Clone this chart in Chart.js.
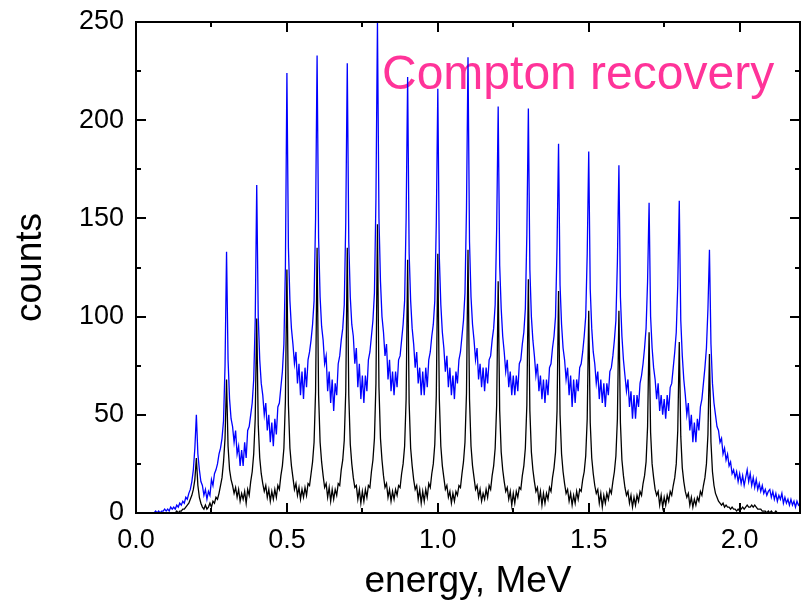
<!DOCTYPE html>
<html>
<head>
<meta charset="utf-8">
<script src="https://cdn.jsdelivr.net/npm/chart.js@4.4.1/dist/chart.umd.min.js"></script>
<style>
html, body { margin: 0; padding: 0; background: #fff; }
</style>
</head>
<body>
<canvas id="spectrum" width="802" height="604"></canvas>
<script>
const eStep = 0.005; // channel width in MeV, spectra start at 0

// counts per channel, Compton recovery (blue)
const blueCounts = [
    0,0,0,0,0,0,0,0,0,0,0,0,0,1,0,1,0,1,1,2,
    1,2,1,3,2,3,2,4,3,5,4,6,5,8,7,10,12,16,22,33,
    50,30,22,16,14,9,12,7,11,9,17,14,20,22,25,30,33,38,47,75,
    133,78,58,48,44,36,42,30,34,24,32,24,36,28,42,44,50,56,68,98,
    167,100,78,66,60,50,56,42,50,36,46,34,48,40,54,56,64,72,86,125,
    224,135,108,94,86,76,82,66,76,60,72,58,74,64,78,82,88,96,108,150,
    233,140,110,95,88,76,80,62,72,56,68,52,66,60,76,80,88,94,106,148,
    229,138,110,96,90,76,84,64,76,58,70,56,70,62,78,82,90,98,112,160,
    250,150,118,100,92,80,86,68,78,62,72,60,72,64,78,80,88,96,108,150,
    222,132,108,94,86,74,82,66,74,60,72,60,74,64,78,82,90,96,108,148,
    216,130,106,92,84,72,80,64,74,60,70,58,72,66,78,82,90,98,112,155,
    232,138,110,96,88,78,84,68,76,64,74,62,74,66,78,80,88,94,106,145,
    207,126,104,90,82,72,78,64,72,60,70,60,70,62,76,78,86,92,104,142,
    206,124,100,88,80,70,76,62,70,58,68,56,68,60,74,76,84,90,100,135,
    188,116,96,84,78,68,74,60,70,54,68,56,68,62,74,76,82,90,100,132,
    184,114,94,82,76,66,72,58,68,56,66,54,66,60,72,74,80,88,98,128,
    177,110,90,78,70,62,68,54,62,48,60,48,60,54,66,70,76,84,94,118,
    158,100,84,74,68,58,66,52,60,50,58,48,60,52,64,66,74,82,92,116,
    159,98,80,68,60,50,56,42,50,36,46,36,48,42,54,58,66,74,84,104,
    134,86,66,56,50,44,42,36,38,30,33,27,30,24,26,20,22,18,21,16,
    20,15,19,14,18,22,16,20,14,18,13,17,12,15,11,14,10,12,9,11,
    12,8,11,7,10,6,9,7,10,5,8,5,7,4,7,4,6,3,6,4,
    5
];

// counts per channel, raw spectrum (black)
const blackCounts = [
    0,0,0,0,0,0,0,0,0,0,0,0,0,0,0,0,0,0,0,0,
    0,0,0,0,0,0,0,1,0,1,1,2,2,3,4,5,7,9,12,17,
    28,14,8,5,3,2,4,2,3,5,3,6,5,8,7,10,14,18,26,38,
    68,34,22,17,14,10,13,8,12,6,10,7,11,5,12,9,16,21,30,48,
    99,45,28,20,15,11,14,8,12,6,11,7,12,8,14,12,19,24,33,57,
    124,55,33,24,18,12,15,9,13,7,12,8,13,9,15,14,20,26,36,62,
    135,60,36,26,19,13,15,8,13,6,12,7,12,9,15,14,22,27,37,62,
    135,60,35,25,18,13,14,7,12,5,11,6,12,8,14,13,21,27,38,66,
    147,64,38,27,19,13,15,8,12,6,11,7,12,9,14,13,20,25,34,58,
    129,56,33,24,17,12,14,7,12,5,11,6,12,8,15,13,20,25,35,60,
    132,58,34,24,18,12,14,8,11,5,10,6,11,9,14,13,20,26,36,61,
    134,58,34,24,18,12,14,8,12,6,10,7,12,8,14,12,19,24,33,55,
    118,52,31,22,16,11,13,7,11,4,10,5,11,8,13,12,19,24,33,55,
    119,52,31,22,16,11,13,6,11,4,10,5,10,7,13,11,18,23,31,52,
    113,50,30,21,15,10,12,6,10,4,9,5,11,7,12,11,17,21,29,48,
    103,46,28,20,14,10,12,5,10,3,9,5,10,7,12,10,16,21,29,48,
    103,46,27,19,13,9,11,5,9,3,8,4,9,6,11,9,15,19,26,44,
    92,41,25,18,12,9,11,4,9,3,8,4,9,6,11,9,14,18,25,42,
    87,39,23,16,11,8,10,4,8,3,7,4,8,6,11,9,14,18,25,40,
    81,36,21,14,10,8,6,5,4,5,3,4,3,3,2,3,2,2,1,2,
    1,2,3,2,3,4,3,3,4,3,4,3,2,2,2,1,1,1,0,1,
    0,1,0,0,1,0,0,0,0,0,0,0,0,0,0,0,0,0,0,0,
    0
];

const xMajor = [0, 0.5, 1.0, 1.5, 2.0];
const xMinor = [0.25, 0.75, 1.25, 1.75];
const yMajor = [0, 50, 100, 150, 200, 250];
const yMinor = [25, 75, 125, 175, 225];

const titleText = 'Compton recovery';

// channel energies
const energy = blueCounts.map((_, i) => +(i * eStep).toFixed(3));

const FONT = "'Liberation Sans', Arial, sans-serif";

// origin-style box: frame plus inward ticks on all four sides
const framePlugin = {
    id: 'frame',
    afterDatasetsDraw(chart) {
        const {ctx, chartArea: a, scales: {x, y}} = chart;
        ctx.save();
        ctx.strokeStyle = '#000';
        ctx.lineWidth = 2;
        ctx.strokeRect(a.left, a.top, a.right - a.left, a.bottom - a.top);

        const xTicks = (vals, len) => {
            vals.forEach(v => {
                const px = Math.round(x.getPixelForValue(v));
                ctx.beginPath();
                ctx.moveTo(px, a.bottom);
                ctx.lineTo(px, a.bottom - len);
                ctx.moveTo(px, a.top);
                ctx.lineTo(px, a.top + len);
                ctx.stroke();
            });
        };
        const yTicks = (vals, len) => {
            vals.forEach(v => {
                const py = Math.round(y.getPixelForValue(v));
                ctx.beginPath();
                ctx.moveTo(a.left, py);
                ctx.lineTo(a.left + len, py);
                ctx.moveTo(a.right, py);
                ctx.lineTo(a.right - len, py);
                ctx.stroke();
            });
        };
        xTicks(xMajor, 10);
        xTicks(xMinor, 5);
        yTicks(yMajor, 10);
        yTicks(yMinor, 5);
        ctx.restore();
    }
};

const labelPlugin = {
    id: 'label',
    beforeDatasetsDraw(chart) {
        const {ctx, chartArea: a} = chart;
        ctx.save();
        ctx.fillStyle = '#ff3399';
        ctx.font = '48px ' + FONT;
        ctx.textAlign = 'left';
        ctx.textBaseline = 'alphabetic';
        ctx.fillText(titleText, a.left + 246, a.top + 67);
        ctx.restore();
    }
};

new Chart(document.getElementById('spectrum'), {
    type: 'line',
    data: {
        labels: energy,
        datasets: [{
            label: 'raw',
            data: blackCounts,
            borderColor: '#000000',
            borderWidth: 1.3,
            pointRadius: 0,
            tension: 0,
            fill: false,
            order: 1
        }, {
            label: 'Compton recovery',
            data: blueCounts,
            borderColor: '#0000ff',
            borderWidth: 1.3,
            pointRadius: 0,
            tension: 0,
            fill: false,
            order: 2
        }]
    },
    options: {
        responsive: false,
        animation: false,
        devicePixelRatio: 1,
        layout: { padding: { left: 0, right: 2, top: 22, bottom: 0 } },
        plugins: {
            legend: { display: false },
            tooltip: { enabled: false }
        },
        scales: {
            x: {
                type: 'linear',
                min: 0,
                max: 2.2,
                afterBuildTicks: (s) => { s.ticks = xMajor.map(v => ({ value: v })); },
                afterFit: (s) => { s.height = 91; s.paddingLeft = 0; s.paddingRight = 0; },
                grid: { display: false, drawTicks: false },
                border: { display: false },
                ticks: {
                    padding: 11,
                    color: '#000',
                    font: { family: FONT, size: 27 },
                    callback: (v) => Number(v).toFixed(1)
                },
                title: {
                    display: true,
                    text: 'energy, MeV',
                    color: '#000',
                    font: { family: FONT, size: 37 },
                    padding: { top: 0, bottom: 0 }
                }
            },
            y: {
                min: 0,
                max: 250,
                afterBuildTicks: (s) => { s.ticks = yMajor.map(v => ({ value: v })); },
                afterFit: (s) => { s.width = 136; s.paddingTop = 0; s.paddingBottom = 0; },
                grid: { display: false, drawTicks: false },
                border: { display: false },
                ticks: {
                    padding: 12,
                    color: '#000',
                    font: { family: FONT, size: 27 },
                    callback: (v) => v
                },
                title: {
                    display: true,
                    text: 'counts',
                    color: '#000',
                    font: { family: FONT, size: 37 },
                    padding: { top: 9, bottom: 0 }
                }
            }
        }
    },
    plugins: [labelPlugin, framePlugin]
});
</script>
</body>
</html>
